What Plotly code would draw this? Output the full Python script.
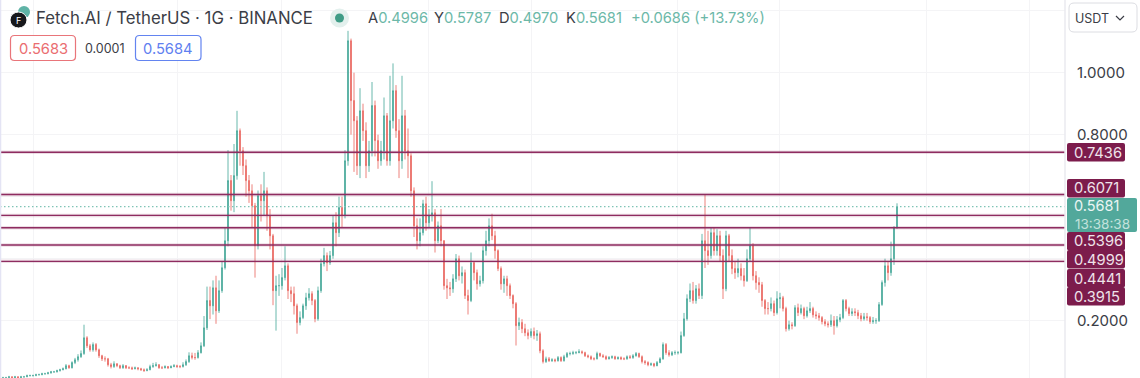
import plotly.graph_objects as go

W, H = 1140, 378
PLOT_R = 1065

opens = [
 .015,.016,.016,.019,.016,.019,.016,.019,.019,.023,
 .023,.023,.026,.026,.029,.029,.032,.035,.035,.039,
 .042,.045,.055,.048,.065,.074,.084,.094,.145,.119,
 .106,.123,.106,.087,.077,.077,.058,.052,.061,.055,
 .048,.055,.048,.048,.045,.048,.045,.042,.039,.042,
 .052,.055,.058,.048,.048,.052,.048,.052,.055,.052,
 .052,.058,.068,.087,.081,.081,.097,.119,.177,.265,
 .248,.306,.232,.297,.371,.458,.652,.587,.668,.813,
 .748,.7,.652,.619,.571,.442,.603,.587,.619,.539,
 .474,.297,.313,.313,.339,.377,.297,.287,.248,.194,
 .21,.248,.274,.287,.265,.206,.297,.384,.41,.387,
 .41,.516,.484,.565,.539,.716,1.103,.91,.845,.7,
 .877,.813,.7,.748,.894,.781,.716,.748,.861,.716,
 .845,.942,.813,.716,.861,.748,.732,.619,.506,.458,
 .484,.577,.516,.539,.548,.458,.506,.458,.313,.306,
 .303,.335,.4,.345,.355,.281,.265,.387,.355,.319,
 .329,.426,.458,.506,.474,.426,.368,.319,.335,.313,
 .281,.255,.184,.194,.174,.161,.152,.165,.152,.158,
 .103,.068,.077,.071,.074,.071,.081,.071,.084,.094,
 .094,.097,.097,.1,.097,.087,.084,.077,.077,.094,
 .087,.084,.077,.081,.084,.077,.081,.077,.077,.084,
 .081,.087,.094,.084,.068,.065,.058,.061,.055,.065,
 .077,.123,.097,.09,.097,.097,.097,.152,.206,.271,
 .297,.265,.303,.281,.458,.426,.41,.484,.426,.474,
 .41,.303,.474,.41,.368,.355,.368,.345,.329,.4,
 .442,.345,.323,.316,.265,.239,.239,.255,.226,.271,
 .274,.239,.174,.187,.184,.242,.226,.239,.216,.232,
 .239,.219,.216,.21,.197,.19,.187,.2,.184,.203,
 .21,.265,.239,.223,.229,.226,.216,.206,.213,.21,
 .197,.2,.2,.252,.323,.377,.355,.4,.4996]
highs = [
 .019,.019,.022,.021,.022,.021,.022,.022,.026,.026,
 .026,.029,.029,.032,.032,.035,.038,.038,.042,.045,
 .049,.06,.058,.069,.08,.092,.104,.187,.15,.125,
 .13,.128,.11,.09,.085,.08,.064,.069,.063,.058,
 .06,.057,.053,.052,.052,.05,.048,.046,.047,.058,
 .064,.066,.06,.054,.056,.054,.056,.06,.058,.057,
 .066,.075,.098,.097,.096,.105,.13,.215,.31,.31,
 .33,.345,.33,.39,.5,.75,.67,.77,.877,.82,
 .76,.72,.67,.64,.58,.62,.64,.68,.63,.56,
 .48,.345,.35,.37,.44,.385,.31,.31,.255,.23,
 .255,.29,.305,.295,.27,.31,.4,.435,.42,.425,
 .54,.55,.6,.6,.75,1.135,1.11,1.0,.86,.95,
 .9,.84,.78,.97,.91,.8,.78,.92,.87,.99,
 1.03,.96,.85,.99,.88,.82,.74,.63,.53,.53,
 .59,.6,.56,.65,.56,.52,.56,.46,.335,.325,
 .35,.415,.41,.375,.365,.3,.42,.39,.365,.345,
 .44,.49,.53,.545,.49,.43,.375,.345,.345,.32,
 .285,.26,.21,.205,.19,.172,.175,.178,.17,.165,
 .108,.084,.083,.079,.078,.086,.085,.09,.099,.1,
 .103,.102,.108,.104,.1,.091,.088,.082,.1,.097,
 .092,.088,.086,.088,.087,.085,.085,.082,.088,.089,
 .092,.099,.097,.088,.073,.069,.065,.064,.07,.082,
 .13,.128,.105,.102,.104,.102,.165,.225,.285,.32,
 .325,.315,.32,.48,.607,.49,.5,.5,.495,.49,
 .43,.49,.48,.43,.39,.4,.385,.37,.43,.5,
 .45,.36,.34,.325,.27,.26,.275,.265,.295,.29,
 .28,.245,.2,.195,.25,.255,.252,.245,.245,.26,
 .245,.23,.225,.215,.205,.198,.22,.215,.215,.222,
 .27,.27,.245,.24,.24,.235,.225,.225,.225,.215,
 .212,.208,.26,.33,.4,.39,.455,.505,.5787]
lows = [
 .014,.014,.015,.014,.015,.014,.015,.016,.018,.02,
 .02,.021,.023,.024,.026,.027,.029,.032,.033,.036,
 .04,.043,.045,.046,.06,.068,.08,.09,.112,.1,
 .1,.1,.08,.07,.068,.052,.046,.048,.05,.044,
 .045,.044,.044,.041,.043,.04,.038,.035,.037,.04,
 .048,.052,.045,.044,.046,.044,.047,.05,.048,.047,
 .049,.054,.064,.075,.074,.078,.094,.115,.17,.205,
 .22,.19,.225,.29,.365,.44,.555,.55,.655,.7,
 .67,.6,.58,.5,.339,.43,.52,.54,.49,.43,
 .25,.168,.28,.3,.33,.27,.26,.22,.158,.185,
 .205,.235,.265,.25,.195,.2,.29,.375,.36,.38,
 .4,.44,.47,.5,.53,.7,.8,.68,.67,.66,
 .78,.66,.68,.73,.73,.69,.7,.72,.7,.7,
 .82,.79,.66,.69,.72,.66,.6,.47,.43,.44,
 .475,.49,.5,.52,.42,.45,.44,.3,.27,.28,
 .29,.325,.33,.32,.27,.22,.26,.33,.3,.31,
 .32,.41,.44,.46,.4,.36,.3,.29,.28,.27,
 .24,.12,.17,.16,.15,.14,.145,.14,.135,.095,
 .062,.064,.067,.067,.066,.068,.067,.068,.08,.088,
 .09,.092,.095,.092,.083,.079,.073,.072,.075,.083,
 .08,.073,.075,.077,.074,.075,.073,.073,.074,.077,
 .077,.084,.08,.062,.058,.053,.054,.05,.053,.063,
 .074,.09,.084,.086,.09,.091,.094,.148,.2,.26,
 .255,.255,.27,.27,.37,.38,.4,.41,.41,.39,
 .27,.295,.39,.35,.335,.34,.33,.31,.325,.39,
 .33,.3,.29,.245,.22,.22,.23,.215,.22,.24,
 .23,.165,.168,.172,.18,.215,.22,.205,.21,.225,
 .21,.205,.2,.188,.182,.178,.18,.155,.178,.195,
 .205,.23,.215,.215,.215,.205,.198,.2,.2,.19,
 .19,.19,.196,.248,.31,.33,.345,.38,.497]
closes = [
 .016,.016,.019,.016,.019,.016,.019,.019,.023,.023,
 .023,.026,.026,.029,.029,.032,.035,.035,.039,.042,
 .045,.055,.048,.065,.074,.084,.094,.145,.119,.106,
 .123,.106,.087,.077,.077,.058,.052,.061,.055,.048,
 .055,.048,.048,.045,.048,.045,.042,.039,.042,.052,
 .055,.058,.048,.048,.052,.048,.052,.055,.052,.052,
 .058,.068,.087,.081,.081,.097,.119,.177,.265,.248,
 .306,.232,.297,.371,.458,.652,.587,.668,.813,.748,
 .7,.652,.619,.571,.442,.603,.587,.619,.539,.474,
 .297,.313,.313,.339,.377,.297,.287,.248,.194,.21,
 .248,.274,.287,.265,.206,.297,.384,.41,.387,.41,
 .516,.484,.565,.539,.716,1.103,.91,.845,.7,.877,
 .813,.7,.748,.894,.781,.716,.748,.861,.716,.845,
 .942,.813,.716,.861,.748,.732,.619,.506,.458,.484,
 .577,.516,.539,.548,.458,.506,.458,.313,.306,.303,
 .335,.4,.345,.355,.281,.265,.387,.355,.319,.329,
 .426,.458,.506,.474,.426,.368,.319,.335,.313,.281,
 .255,.184,.194,.174,.161,.152,.165,.152,.158,.103,
 .068,.077,.071,.074,.071,.081,.071,.084,.094,.094,
 .097,.097,.1,.097,.087,.084,.077,.077,.094,.087,
 .084,.077,.081,.084,.077,.081,.077,.077,.084,.081,
 .087,.094,.084,.068,.065,.058,.061,.055,.065,.077,
 .123,.097,.09,.097,.097,.097,.152,.206,.271,.297,
 .265,.303,.281,.458,.426,.41,.484,.426,.474,.41,
 .303,.474,.41,.368,.355,.368,.345,.329,.4,.442,
 .345,.323,.316,.265,.239,.239,.255,.226,.271,.274,
 .239,.174,.187,.184,.242,.226,.239,.216,.232,.239,
 .219,.216,.21,.197,.19,.187,.2,.184,.203,.21,
 .265,.239,.223,.229,.226,.216,.206,.213,.21,.197,
 .2,.2,.252,.323,.377,.355,.4,.4996,.5681]

price_levels = [0.7436, 0.6071, 0.5396, 0.4999, 0.4441, 0.3915]
level_tag_y = [152, 188, 241, 259, 278, 296]
last_price = 0.5681
grid_candles = [10, 58.3, 92.7, 141.7, 176, 224.7, 258.7, 307.7, 342]
y_ticks = [0.2, 0.4, 0.6, 0.8, 1.0, 1.2]
y_labels = ["0.2000", "", "", "0.8000", "1.0000", ""]

title_text = "Fetch.AI / TetherUS · 1G · BINANCE"
ohlc_pairs = [("A", "0.4996"), ("Y", "0.5787"), ("D", "0.4970"), ("K", "0.5681")]
change_text = "+0.0686 (+13.73%)"
sell_price, spread, buy_price = "0.5683", "0.0001", "0.5684"

UP, DOWN = "rgba(63,165,150,0.88)", "rgba(232,96,90,0.88)"
MAROON = "#7c1c4c"
LINE = "#8e2c60"
FONT = "Inter"
DARK = "#3b3d46"
TEAL_TXT = "#6cb8a8"

def X(p): return p / W
def Y(p): return 1 - p / H

def rbox(x0, y0, x1, y1, r):
    a, b, c, d = X(x0), Y(y0), X(x1), Y(y1)
    rx, ry = r / W, r / H
    return (f"M{a+rx},{b} L{c-rx},{b} Q{c},{b} {c},{b-ry} L{c},{d+ry} Q{c},{d} {c-rx},{d} "
            f"L{a+rx},{d} Q{a},{d} {a},{d+ry} L{a},{b-ry} Q{a},{b} {a+rx},{b} Z")

fig = go.Figure(go.Candlestick(
    x=list(range(len(closes))), open=opens, high=highs, low=lows, close=closes,
    increasing=dict(line=dict(color=UP, width=0.9), fillcolor=UP),
    decreasing=dict(line=dict(color=DOWN, width=0.9), fillcolor=DOWN),
    whiskerwidth=0, showlegend=False, hoverinfo="skip"))

shapes, ann = [], []
def txt(x, y, s, size=14, color=DARK, anchor="left"):
    ann.append(dict(xref="paper", yref="paper", x=X(x), y=Y(y), text=s, showarrow=False,
                    xanchor=anchor, yanchor="middle", align="left",
                    font=dict(family=FONT, size=size, color=color), borderpad=0))

# price lines
for lv in price_levels:
    shapes.append(dict(type="line", xref="x", yref="y", x0=-1, x1=354, y0=lv, y1=lv,
                       line=dict(color="rgba(142,44,96,0.16)", width=3.5), layer="above"))
    shapes.append(dict(type="line", xref="x", yref="y", x0=-1, x1=354, y0=lv, y1=lv,
                       line=dict(color=LINE, width=1.4), layer="above"))
shapes.append(dict(type="line", xref="x", yref="y", x0=-1, x1=354, y0=last_price, y1=last_price,
                   line=dict(color="#7fc4b6", width=1.1, dash="1.5px,2.5px"), layer="above"))
# axis edge and left edge
shapes.append(dict(type="line", xref="paper", yref="paper", x0=X(PLOT_R), x1=X(PLOT_R), y0=0, y1=1,
                   line=dict(color="#eaeaef", width=1.5)))
shapes.append(dict(type="line", xref="paper", yref="paper", x0=X(0.5), x1=X(0.5), y0=0, y1=1,
                   line=dict(color="#e4e4f4", width=1.5)))
# price tags
for lv, ty in zip(price_levels, level_tag_y):
    shapes.append(dict(type="path", xref="paper", yref="paper", path=rbox(PLOT_R + 2, ty - 9, 1125, ty + 9.5, 2),
                       fillcolor=MAROON, line=dict(width=0), layer="above"))
    txt(1073, ty + 0.5, f"{lv:.4f}", 14.7, "#efe3ea")
shapes.append(dict(type="path", xref="paper", yref="paper", path=rbox(PLOT_R + 2, 198, 1137, 232, 2),
                   fillcolor="#52a89b", line=dict(width=0), layer="above"))
txt(1073, 205.5, f"{last_price:.4f}", 14.5, "#eaf5f3")
txt(1074, 223.5, "13:38:38", 13.5, "#c3e2dc")
# USDT button
shapes.append(dict(type="path", xref="paper", yref="paper", path=rbox(1069, 3, 1137, 32, 5),
                   fillcolor="white", line=dict(color="#dcdde2", width=1), layer="above"))
shapes.append(dict(type="path", xref="paper", yref="paper",
                   path=f"M{X(1116)},{Y(16)} L{X(1120)},{Y(20)} L{X(1124)},{Y(16)}",
                   line=dict(color=DARK, width=1.2), layer="above"))
txt(1074, 18, "USDT", 12.5)
# icon
shapes.append(dict(type="circle", xref="paper", yref="paper", x0=X(18), x1=X(30), y0=Y(6), y1=Y(18),
                   fillcolor="#5fb3a6", line=dict(width=0), layer="above"))
shapes.append(dict(type="circle", xref="paper", yref="paper", x0=X(10), x1=X(27), y0=Y(12), y1=Y(28),
                   fillcolor="#17181c", line=dict(color="white", width=1), layer="above"))
txt(14.5, 20.5, "F", 9, "#ffffff")
txt(35, 18, title_text, 16.8)
# status dot
shapes.append(dict(type="circle", xref="paper", yref="paper", x0=X(330), x1=X(349), y0=Y(8.5), y1=Y(27.5),
                   fillcolor="#e3f0ed", line=dict(width=0), layer="above"))
shapes.append(dict(type="circle", xref="paper", yref="paper", x0=X(335), x1=X(344), y0=Y(13.5), y1=Y(22.5),
                   fillcolor="#3f9c86", line=dict(width=0), layer="above"))
ohlc_x = [366.5, 433, 498, 564.5]
for (k, v), ox in zip(ohlc_pairs, ohlc_x):
    txt(ox, 18, f'<span style="color:{DARK}">{k}</span><span style="color:{TEAL_TXT}">{v}</span>', 14.7)
txt(630, 18, change_text, 14.7, TEAL_TXT)
# bid / ask boxes
shapes.append(dict(type="path", xref="paper", yref="paper", path=rbox(10.5, 35.5, 75.5, 60.5, 4),
                   fillcolor="rgba(255,255,255,0.9)", line=dict(color="#e9757a", width=1.2), layer="above"))
shapes.append(dict(type="path", xref="paper", yref="paper", path=rbox(135.5, 35.5, 201, 60.5, 4),
                   fillcolor="rgba(255,255,255,0.9)", line=dict(color="#6384f0", width=1.2), layer="above"))
txt(43, 48.5, sell_price, 14.7, "#ea6d70", "center")
txt(105, 48.5, spread, 12.5, DARK, "center")
txt(168, 48.5, buy_price, 14.7, "#5f80f0", "center")

fig.update_layout(
    width=W, height=H, margin=dict(l=0, r=0, t=0, b=0), paper_bgcolor="white", plot_bgcolor="white",
    shapes=shapes, annotations=ann, showlegend=False, boxgap=0.6,
    xaxis=dict(domain=[0, PLOT_R / W], range=[-1, 354], rangeslider=dict(visible=False),
               tickvals=grid_candles, showticklabels=False, ticks="",
               showgrid=True, gridcolor="#f4f4f6", gridwidth=1, zeroline=False, showline=False),
    yaxis=dict(side="right", range=[(382.7 - H) / 310, 382.7 / 310], tickvals=y_ticks, ticktext=y_labels,
               ticks="outside", ticklen=8, tickcolor="rgba(0,0,0,0)",
               tickfont=dict(family=FONT, size=15, color=DARK),
               showgrid=True, gridcolor="#f4f4f6", gridwidth=1, zeroline=False, showline=False),
)
fig.write_html("out.html", config=dict(displayModeBar=False),
               post_script="document.body.style.margin='0';document.body.style.overflow='hidden';")
